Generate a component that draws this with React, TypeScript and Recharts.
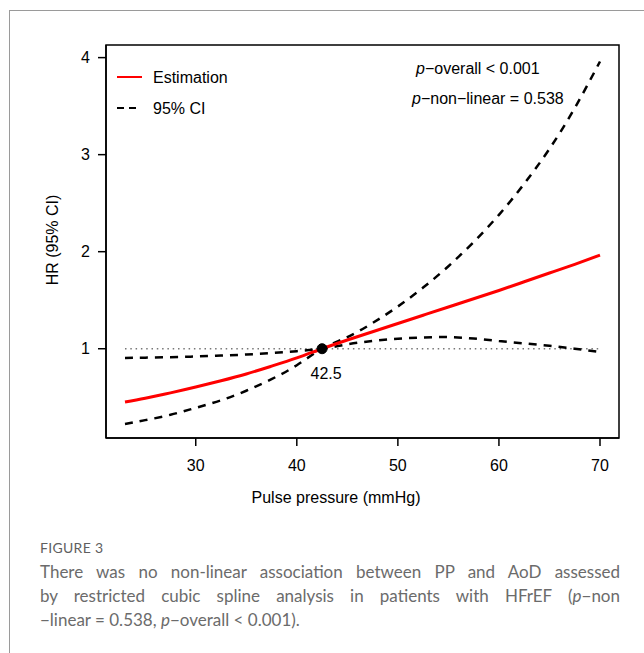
import React from 'react';
import {
  ComposedChart,
  Line,
  XAxis,
  YAxis,
  ReferenceLine,
  ReferenceDot,
  ReferenceArea,
  Legend,
  Label,
} from 'recharts';

// Pulse pressure (mmHg)
const pulsePressure = [23, 25, 27.5, 30, 32.5, 35, 37.5, 40, 42.5, 45, 47.5, 50, 52.5, 55, 57.5, 60, 62.5, 65, 67.5, 70];
// Estimated HR
const estimation = [0.45, 0.49, 0.545, 0.605, 0.67, 0.74, 0.82, 0.905, 1.0, 1.09, 1.175, 1.26, 1.345, 1.43, 1.515, 1.6, 1.69, 1.78, 1.87, 1.965];
// 95% CI curve (steep branch: lower on the left, upper on the right)
const ciSteep = [0.224, 0.264, 0.319, 0.391, 0.468, 0.567, 0.687, 0.83, 1.0, 1.12, 1.265, 1.435, 1.63, 1.85, 2.1, 2.38, 2.7, 3.06, 3.48, 3.96];
// 95% CI curve (flat branch: upper on the left, lower on the right)
const ciFlat = [0.905, 0.908, 0.913, 0.92, 0.929, 0.94, 0.955, 0.975, 1.0, 1.045, 1.08, 1.103, 1.116, 1.12, 1.105, 1.08, 1.055, 1.03, 1.0, 0.967];

const xTicks = [30, 40, 50, 60, 70];
const yTicks = [1, 2, 3, 4];
const xDomain = [21.12, 71.88];
const yDomain = [0.08, 4.13];
const refPP = 42.5;
const refHR = 1;

const data = pulsePressure.map((x, i) => ({
  x,
  est: estimation[i],
  ciA: ciSteep[i],
  ciB: ciFlat[i],
}));

const FONT = '"Liberation Sans", Arial, Helvetica, sans-serif';

const LegendContent = () => (
  <svg width={160} height={60} style={{ overflow: 'visible' }}>
    <line x1={7} y1={7} x2={32} y2={7} stroke="#ff0000" strokeWidth={2} />
    <text x={43} y={7} dominantBaseline="central" fontSize={16} fontFamily={FONT} fill="#000">
      Estimation
    </text>
    <line x1={7} y1={38} x2={32} y2={38} stroke="#000" strokeWidth={2} strokeDasharray="7 5 7 100" />
    <text x={43} y={38} dominantBaseline="central" fontSize={16} fontFamily={FONT} fill="#000">
      95% CI
    </text>
  </svg>
);

export default function App() {
  return (
    <div style={{ position: 'absolute', left: 0, top: 0, width: 644, height: 653, background: '#fff', overflow: 'hidden' }}>
      <div
        style={{
          position: 'absolute',
          left: 9,
          top: 10,
          width: 640,
          height: 650,
          borderTop: '1px solid #9a9a9a',
          borderLeft: '1px solid #9a9a9a',
        }}
      />
      <div style={{ position: 'absolute', left: 0, top: 0 }}>
        <ComposedChart
          width={644}
          height={520}
          data={data}
          margin={{ top: 45, right: 25, bottom: 22, left: 46 }}
        >
          <XAxis
            type="number"
            dataKey="x"
            domain={xDomain}
            ticks={xTicks}
            allowDataOverflow
            tickSize={8}
            tickMargin={14}
            height={60}
            axisLine={{ stroke: '#000', strokeWidth: 1.5 }}
            tickLine={{ stroke: '#000', strokeWidth: 1.5 }}
            tick={{ fill: '#000', fontSize: 16, fontFamily: FONT }}
          >
            <Label
              content={() => (
                <text x={336} y={503} textAnchor="middle" fontSize={16} fontFamily={FONT} fill="#000">
                  Pulse pressure (mmHg)
                </text>
              )}
            />
          </XAxis>
          <YAxis
            type="number"
            domain={yDomain}
            ticks={yTicks}
            allowDataOverflow
            width={60}
            tickSize={8}
            tickMargin={8}
            axisLine={{ stroke: '#000', strokeWidth: 1.5 }}
            tickLine={{ stroke: '#000', strokeWidth: 1.5 }}
            tick={{ fill: '#000', fontSize: 16, fontFamily: FONT }}
          >
            <Label
              content={() => (
                <text
                  x={52}
                  y={240}
                  transform="rotate(-90 52 240)"
                  textAnchor="middle"
                  dominantBaseline="central"
                  fontSize={16}
                  fontFamily={FONT}
                  fill="#000"
                >
                  HR (95% CI)
                </text>
              )}
            />
          </YAxis>
          <ReferenceArea
            x1={xDomain[0]}
            x2={xDomain[1]}
            y1={yDomain[0]}
            y2={yDomain[1]}
            ifOverflow="visible"
            fill="none"
            fillOpacity={0}
            stroke="#000"
            strokeWidth={1.5}
          />
          <ReferenceLine
            segment={[
              { x: pulsePressure[0], y: refHR },
              { x: pulsePressure[pulsePressure.length - 1], y: refHR },
            ]}
            stroke="#777"
            strokeWidth={1.5}
            strokeDasharray="1.5 3.8"
          />
          <Line
            type="natural"
            dataKey="ciA"
            stroke="#000"
            strokeWidth={2.5}
            strokeDasharray="8 7"
            dot={false}
            activeDot={false}
            isAnimationActive={false}
            legendType="none"
          />
          <Line
            type="natural"
            dataKey="ciB"
            stroke="#000"
            strokeWidth={2.5}
            strokeDasharray="8 7"
            dot={false}
            activeDot={false}
            isAnimationActive={false}
            legendType="none"
          />
          <Line
            type="natural"
            dataKey="est"
            stroke="#ff0000"
            strokeWidth={3}
            dot={false}
            activeDot={false}
            isAnimationActive={false}
            legendType="none"
          />
          <ReferenceDot
            x={refPP}
            y={refHR}
            r={5}
            fill="#000"
            stroke="#000"
            ifOverflow="visible"
            label={(p: any) => {
              const vb = p.viewBox || {};
              const cx = (vb.x ?? 0) + (vb.width ?? 0) / 2;
              const by = (vb.y ?? 0) + (vb.height ?? 0);
              return (
                <text x={cx + 4} y={by + 25} textAnchor="middle" fontSize={16} fontFamily={FONT} fill="#000">
                  {String(refPP)}
                </text>
              );
            }}
          />
          <Legend
            layout="horizontal"
            verticalAlign="middle"
            align="center"
            content={<LegendContent />}
            wrapperStyle={{ position: 'absolute', left: 110, top: 70, width: 160, height: 60 }}
          />
        </ComposedChart>
      </div>
      <div
        style={{
          position: 'absolute',
          left: 0,
          top: 0,
          width: 644,
          height: 520,
          pointerEvents: 'none',
          fontFamily: FONT,
          fontSize: 16,
          color: '#000',
        }}
      >
        <div style={{ position: 'absolute', left: 416, top: 59, whiteSpace: 'nowrap', lineHeight: '20px' }}>
          <i>p</i>−overall &lt; 0.001
        </div>
        <div style={{ position: 'absolute', left: 412, top: 89, whiteSpace: 'nowrap', lineHeight: '20px' }}>
          <i>p</i>−non−linear = 0.538
        </div>
      </div>
      <div
        style={{
          position: 'absolute',
          left: 40,
          top: 539,
          width: 580,
          fontFamily: 'Lato, "Open Sans", sans-serif',
          color: '#6b6b6b',
        }}
      >
        <div style={{ fontSize: 14, lineHeight: '18px', letterSpacing: 0.3, color: '#5f5f5f' }}>FIGURE 3</div>
        <div style={{ fontSize: 17, lineHeight: '24px', marginTop: 3 }}>
          <div style={{ textAlign: 'justify', textAlignLast: 'justify', whiteSpace: 'nowrap' }}>
            There was no non-linear association between PP and AoD assessed
          </div>
          <div style={{ textAlign: 'justify', textAlignLast: 'justify' }}>
            by restricted cubic spline analysis in patients with HFrEF (<i>p</i>−non
          </div>
          <div>
            −linear = 0.538, <i>p</i>−overall &lt; 0.001).
          </div>
        </div>
      </div>
    </div>
  );
}
